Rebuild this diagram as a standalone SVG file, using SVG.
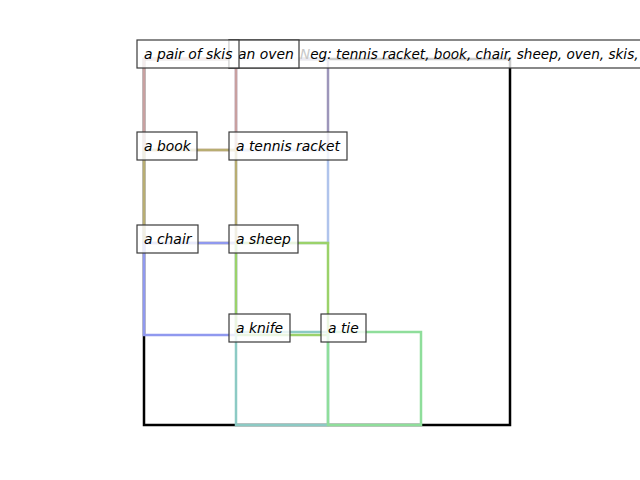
<svg xmlns="http://www.w3.org/2000/svg" width="640" height="480" viewBox="0 0 640 480">
<style>
.lbl{font-family:"DejaVu Sans",sans-serif;font-style:italic;font-size:13.9px;fill:#000}
.box{fill:#fff;fill-opacity:0.8;stroke:#3a3a3a;stroke-width:1.2}
.r{fill:none;stroke-width:2.5}
</style>
<rect width="640" height="480" fill="#fff"/>
<g id="connectors">
<rect class="r" x="144" y="59" width="366" height="366" stroke="#000"/>
<rect class="r" x="236" y="59" width="92" height="91" stroke="#9d96ba"/>
<rect class="r" x="236" y="150" width="92" height="93" stroke="#b0c4ec"/>
<rect class="r" x="144" y="59" width="92" height="91" stroke="#c8a0a0"/>
<rect class="r" x="144" y="150" width="92" height="93" stroke="#b8ad72"/>
<rect class="r" x="144" y="243" width="92" height="92" stroke="#9099ef"/>
<rect class="r" x="236" y="243" width="92" height="92" stroke="#9bd26a"/>
<rect class="r" x="236" y="332" width="92" height="93" stroke="#8ccac4"/>
<rect class="r" x="328" y="332" width="93" height="93" stroke="#8fde9b"/>
</g>
<g id="neg">
<rect class="box" x="229" y="40" width="430" height="28"/>
<text class="lbl" x="300" y="59" style="font-size:13.6px"><tspan fill="#c8c8c8">N</tspan>eg: tennis racket, book, chair, sheep, oven, skis, knife, tie</text>
</g>
<g id="oven">
<rect class="box" x="229" y="40" width="70" height="28"/>
<text class="lbl" x="238" y="59">an oven</text>
</g>
<g id="skis">
<rect class="box" x="137" y="40" width="102" height="28"/>
<text class="lbl" x="144" y="59">a pair of skis</text>
</g>
<g id="book">
<rect class="box" x="137" y="132" width="60" height="28"/>
<text class="lbl" x="144" y="151">a book</text>
</g>
<g id="racket">
<rect class="box" x="229" y="132" width="118" height="28"/>
<text class="lbl" x="236" y="151">a tennis racket</text>
</g>
<g id="chair">
<rect class="box" x="137" y="225" width="61" height="28"/>
<text class="lbl" x="144" y="244">a chair</text>
</g>
<g id="sheep">
<rect class="box" x="229" y="225" width="69" height="28"/>
<text class="lbl" x="236" y="244">a sheep</text>
</g>
<g id="knife">
<rect class="box" x="229" y="314" width="61" height="28"/>
<text class="lbl" x="236" y="333">a knife</text>
</g>
<g id="tie">
<rect class="box" x="321" y="314" width="45" height="28"/>
<text class="lbl" x="328" y="333">a tie</text>
</g>
</svg>
